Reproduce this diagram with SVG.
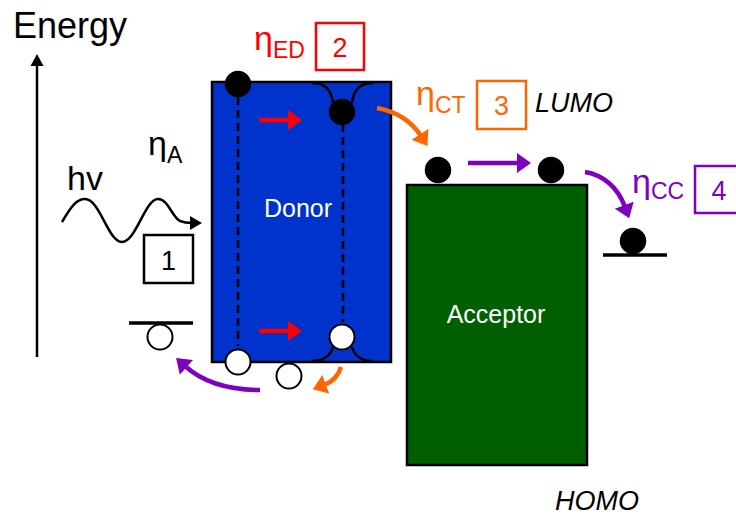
<svg xmlns="http://www.w3.org/2000/svg" width="736" height="517" viewBox="0 0 736 517">
<defs>
<style>
text{font-family:"Liberation Sans",Arial,sans-serif}
.eta{font-size:34px}
.sub{font-size:23px}
.num{font-size:27px;text-anchor:middle}
.lbl{font-size:25px;fill:#fff;text-anchor:middle}
.it{font-size:27px;font-style:italic;fill:#000}
.box{fill:none;stroke-width:2.5}
.e{fill:#000;stroke:#000;stroke-width:1.5}
.h{fill:#fff;stroke:#000;stroke-width:2}
.dash{stroke:#000;stroke-width:2.5;stroke-dasharray:8,5;fill:none}
.well{stroke:#000;stroke-width:2.5;fill:none}
.lvl{stroke:#000;stroke-width:3.5}
.arr{fill:none;stroke-width:4.5}
</style>
<marker id="mR" viewBox="0 0 14 20" refX="2" refY="10" markerWidth="14" markerHeight="20" markerUnits="userSpaceOnUse" orient="auto"><path d="M0,0 L14,10 L0,20 z" fill="#ff0000"/></marker>
<marker id="mO" viewBox="0 0 14 20" refX="2" refY="10" markerWidth="14" markerHeight="20" markerUnits="userSpaceOnUse" orient="auto"><path d="M0,0 L14,10 L0,20 z" fill="#ff6600"/></marker>
<marker id="mP" viewBox="0 0 14 20" refX="2" refY="10" markerWidth="14" markerHeight="20" markerUnits="userSpaceOnUse" orient="auto"><path d="M0,0 L14,10 L0,20 z" fill="#8000c0"/></marker>
<marker id="mK" viewBox="0 0 12 14" refX="2" refY="7" markerWidth="12" markerHeight="14" markerUnits="userSpaceOnUse" orient="auto"><path d="M0,0 L12,7 L0,14 z" fill="#000"/></marker>
</defs>
<rect width="736" height="517" fill="#fff"/>

<g id="axis">
<line x1="37" y1="357" x2="37" y2="64" stroke="#000" stroke-width="2.5"/>
<polygon points="37,54 30.5,66 43.5,66" fill="#000"/>
<text x="13" y="38" font-size="36">Energy</text>
</g>

<g id="photon">
<text x="67" y="190" font-size="34">hv</text>
<text x="148" y="155" class="eta">η<tspan class="sub" dy="8">A</tspan></text>
<rect class="box" x="144" y="235" width="49" height="48" stroke="#000"/>
<text class="num" x="168.5" y="270">1</text>
<line class="lvl" x1="129" y1="323" x2="193" y2="323"/>
<circle class="h" cx="160" cy="337" r="12.5"/>
</g>

<g id="donor">
<rect x="212" y="82" width="179" height="280" fill="#0033cc" stroke="#000" stroke-width="2.5"/>
<text class="lbl" x="298" y="217">Donor</text>
<line class="dash" x1="238" y1="97" x2="238" y2="346"/>
<line class="dash" x1="343" y1="124" x2="343" y2="322"/>
<path class="well" d="M312,83 C326,83 331,90 333,103 M352,103 C354,90 359,83 373,83"/>
<path class="well" d="M312,361 C326,361 331,354 333,347 M352,347 C354,354 359,361 373,361"/>
<circle class="e" cx="238" cy="84" r="12.5"/>
<circle class="e" cx="342" cy="112" r="12.5"/>
<circle class="h" cx="342" cy="337" r="12.5"/>
<circle class="h" cx="238" cy="362" r="12.5"/>
<circle class="h" cx="289" cy="376" r="12.5"/>
</g>

<g id="ed-label">
<text x="254" y="50" class="eta" fill="#ff0000">η<tspan class="sub" dy="8">ED</tspan></text>
<rect class="box" x="316" y="23" width="48" height="47" stroke="#ff0000"/>
<text class="num" x="340" y="57" fill="#ff0000">2</text>
</g>

<g id="ct-label">
<text x="416" y="105" class="eta" fill="#ff6600">η<tspan class="sub" dy="8">CT</tspan></text>
<rect class="box" x="477" y="81" width="49" height="48" stroke="#ff6600"/>
<text class="num" x="501.5" y="115" fill="#ff6600">3</text>
<text class="it" x="535" y="112">LUMO</text>
</g>

<g id="acceptor">
<rect x="407" y="185" width="180" height="280" fill="#005f00" stroke="#000" stroke-width="2.5"/>
<text class="lbl" x="496" y="323" font-size="26">Acceptor</text>
<circle class="e" cx="438" cy="170" r="12.5"/>
<circle class="e" cx="551" cy="170" r="12.5"/>
</g>

<g id="cc-label">
<text x="632" y="193" class="eta" fill="#8000c0">η<tspan class="sub" dy="6">CC</tspan></text>
<rect class="box" x="695" y="166" width="48" height="47" stroke="#8000c0"/>
<text class="num" x="719" y="200" fill="#8000c0">4</text>
</g>

<g id="electrode">
<line class="lvl" x1="603" y1="255" x2="667" y2="255"/>
<circle class="e" cx="633" cy="241" r="12.5"/>
</g>

<g id="homo">
<text class="it" x="555" y="510">HOMO</text>
</g>

<g id="connectors">
<path d="M62,222 C72,205 77,199 85,199 C100,199 108,242 122,242 C136,242 145,199 158,199 C168,199 172,217 180,221 C185,223 188,223 192,223" fill="none" stroke="#000" stroke-width="2.5" marker-end="url(#mK)"/>
<line class="arr" x1="259" y1="120" x2="290" y2="120" stroke="#ff0000" marker-end="url(#mR)"/>
<line class="arr" x1="259" y1="331" x2="290" y2="331" stroke="#ff0000" marker-end="url(#mR)"/>
<path class="arr" d="M377,108 C398,112 412,122 421,136" stroke="#ff6600" marker-end="url(#mO)"/>
<path class="arr" d="M341,367 C338,377 332,382 324,385" stroke="#ff6600" marker-end="url(#mO)"/>
<line class="arr" x1="468" y1="163" x2="519" y2="163" stroke="#8000c0" marker-end="url(#mP)"/>
<path class="arr" d="M585,172 C604,175 618,188 625,207" stroke="#8000c0" marker-end="url(#mP)"/>
<path class="arr" d="M260,390 C230,390 205,384 185,366" stroke="#8000c0" marker-end="url(#mP)"/>
</g>
</svg>
